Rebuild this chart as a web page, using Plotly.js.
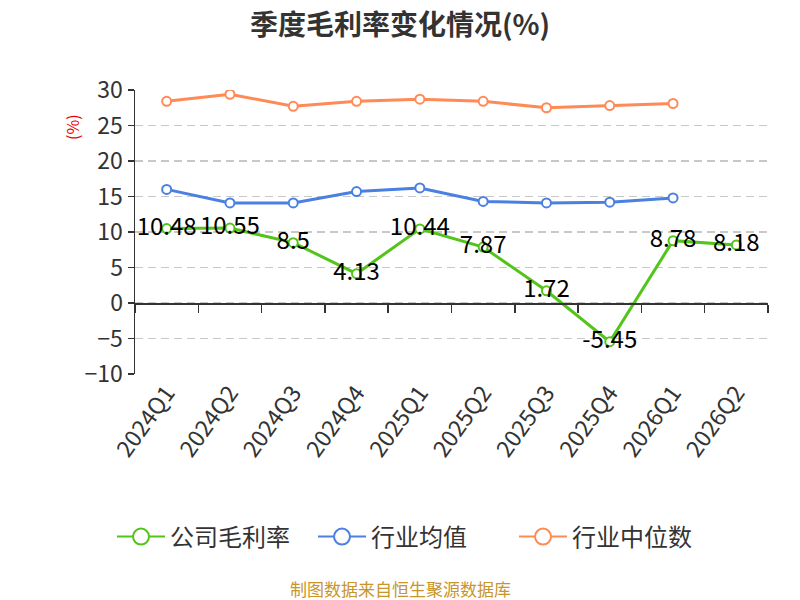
<!DOCTYPE html>
<html>
<head>
<meta charset="utf-8">
<script src="https://cdn.plot.ly/plotly-3.0.1.min.js"></script>
<style>
  html, body { margin: 0; padding: 0; background: #fff; }
  #chart { width: 800px; height: 600px; }
</style>
</head>
<body>
<div id="chart"></div>
<script>
// quarters and gross margin values (%)
const quarters = ['2024Q1', '2024Q2', '2024Q3', '2024Q4', '2025Q1', '2025Q2', '2025Q3', '2025Q4', '2026Q1', '2026Q2']
const companyMargin = [10.48, 10.55, 8.5, 4.13, 10.44, 7.87, 1.72, -5.45, 8.78, 8.18]
const industryMean = [16.0, 14.1, 14.1, 15.7, 16.2, 14.3, 14.1, 14.2, 14.8, null]
const industryMedian = [28.4, 29.4, 27.7, 28.4, 28.7, 28.4, 27.5, 27.8, 28.1, null]

const seriesNames = ['公司毛利率', '行业均值', '行业中位数']
const seriesColors = ['#52c41a', '#4a80e2', '#ff8a56']

const font = '"Noto Sans CJK SC", "Noto Sans", sans-serif'

function series(i, y) {
  return {
    name: seriesNames[i],
    x: quarters,
    y: y,
    type: 'scatter',
    mode: 'lines+markers',
    line: { color: seriesColors[i], width: 3 },
    marker: { symbol: 'circle', size: 9, color: '#fff', line: { color: seriesColors[i], width: 2 } },
    showlegend: false,
    hoverinfo: 'none'
  }
}

// legend entries only (bigger hollow circles than the plotted markers)
function legendEntry(i) {
  return {
    name: seriesNames[i],
    x: quarters,
    y: quarters.map(() => null),
    type: 'scatter',
    mode: 'lines+markers',
    line: { color: seriesColors[i], width: 2 },
    marker: { symbol: 'circle', size: 16, color: '#fff', line: { color: seriesColors[i], width: 2 } },
    hoverinfo: 'skip'
  }
}

const company = series(0, companyMargin)
company.mode = 'lines+markers+text'
company.text = companyMargin.map(v => String(v))
company.textposition = 'middle center'
company.textfont = { family: font, size: 24, color: '#000' }

const data = [
  series(2, industryMedian),
  series(1, industryMean),
  company,
  legendEntry(0),
  legendEntry(1),
  legendEntry(2),
  // carries the categories for the axis line drawn at zero
  {
    x: quarters,
    y: companyMargin,
    xaxis: 'x2',
    type: 'scatter',
    mode: 'markers',
    marker: { opacity: 0 },
    showlegend: false,
    hoverinfo: 'skip'
  }
]

const layout = {
  width: 800,
  height: 600,
  margin: { l: 135, r: 32, t: 90, b: 226 },
  paper_bgcolor: '#fff',
  plot_bgcolor: '#fff',
  font: { family: font, color: '#333' },
  title: {
    text: '<b>季度毛利率变化情况(%)</b>',
    font: { family: font, size: 28, color: '#333' },
    x: 0.5,
    xanchor: 'center',
    y: 0.958,
    yanchor: 'middle'
  },
  xaxis: {
    type: 'category',
    range: [-0.5, 9.5],
    showline: false,
    showgrid: false,
    ticks: '',
    tickangle: -54,
    tickfont: { family: font, size: 23, color: '#333' },
    fixedrange: true
  },
  xaxis2: {
    type: 'category',
    overlaying: 'x',
    anchor: 'free',
    position: 0.25,
    range: [-0.5, 9.5],
    showline: true,
    linecolor: '#333',
    linewidth: 1.5,
    showgrid: false,
    ticks: 'outside',
    tickson: 'boundaries',
    ticklen: 8,
    tickwidth: 1.5,
    tickcolor: '#333',
    showticklabels: false,
    fixedrange: true
  },
  yaxis: {
    range: [-10, 30],
    dtick: 5,
    showline: true,
    linecolor: '#333',
    linewidth: 1.5,
    ticks: 'outside',
    ticklen: 6,
    tickwidth: 1.5,
    tickcolor: '#333',
    tickfont: { family: font, size: 23, color: '#333' },
    showgrid: true,
    gridcolor: '#c8c8c8',
    griddash: '8px,5px',
    gridwidth: 1.3,
    zeroline: false,
    fixedrange: true
  },
  legend: {
    orientation: 'h',
    traceorder: 'normal',
    x: 0.44,
    xanchor: 'center',
    y: -0.574,
    yanchor: 'middle',
    font: { family: font, size: 24, color: '#333' },
    itemwidth: 48,
    entrywidth: 138,
    entrywidthmode: 'pixels'
  },
  annotations: [
    {
      text: '(%)',
      xref: 'paper',
      yref: 'paper',
      x: -0.0995,
      y: 0.87,
      xanchor: 'center',
      yanchor: 'middle',
      textangle: -90,
      showarrow: false,
      font: { family: font, size: 16, color: '#e00' }
    },
    {
      text: '制图数据来自恒生聚源数据库',
      xref: 'paper',
      yref: 'paper',
      x: 0.419,
      y: -0.754,
      xanchor: 'center',
      yanchor: 'middle',
      showarrow: false,
      font: { family: font, size: 17, color: '#c8952a' }
    }
  ]
}

Plotly.newPlot('chart', data, layout, { displayModeBar: false, staticPlot: true })
</script>
</body>
</html>
